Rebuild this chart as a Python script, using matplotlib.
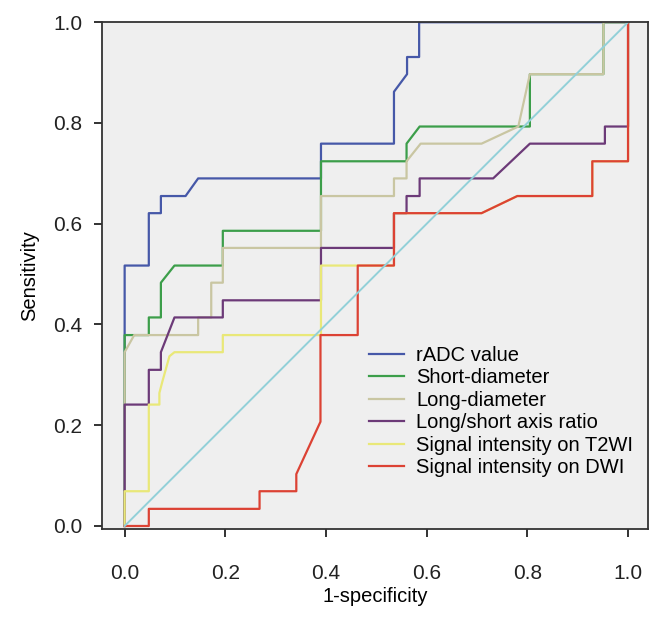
import matplotlib
matplotlib.use("Agg")
import matplotlib.pyplot as plt

plt.rcParams['font.family'] = ['Liberation Sans', 'DejaVu Sans']

# ROC curves (1-specificity, sensitivity)
radc_x = [0, 0, 0.048, 0.048, 0.072, 0.072, 0.121, 0.146, 0.390, 0.390, 0.535, 0.535, 0.561, 0.561, 0.585, 0.585, 1.0]
radc_y = [0, 0.517, 0.517, 0.621, 0.621, 0.655, 0.655, 0.690, 0.690, 0.759, 0.759, 0.862, 0.897, 0.931, 0.931, 1.0, 1.0]

short_x = [0, 0, 0.048, 0.048, 0.072, 0.072, 0.099, 0.195, 0.195, 0.390, 0.390, 0.560, 0.560, 0.586, 0.805, 0.805, 0.951, 0.951, 1.0]
short_y = [0, 0.379, 0.379, 0.414, 0.414, 0.483, 0.517, 0.517, 0.586, 0.586, 0.724, 0.724, 0.759, 0.793, 0.793, 0.897, 0.897, 1.0, 1.0]

long_x = [0, 0, 0.019, 0.146, 0.146, 0.172, 0.172, 0.195, 0.195, 0.390, 0.390, 0.535, 0.535, 0.560, 0.560, 0.588, 0.709, 0.782, 0.805, 0.951, 0.951, 1.0]
long_y = [0, 0.345, 0.379, 0.379, 0.414, 0.414, 0.483, 0.483, 0.552, 0.552, 0.655, 0.655, 0.690, 0.690, 0.724, 0.759, 0.759, 0.793, 0.897, 0.897, 1.0, 1.0]

ratio_x = [0, 0, 0.048, 0.048, 0.072, 0.072, 0.099, 0.195, 0.195, 0.390, 0.390, 0.535, 0.535, 0.560, 0.560, 0.586, 0.586, 0.732, 0.805, 0.954, 0.954, 1.0, 1.0]
ratio_y = [0, 0.241, 0.241, 0.310, 0.310, 0.345, 0.414, 0.414, 0.448, 0.448, 0.552, 0.552, 0.621, 0.621, 0.655, 0.655, 0.690, 0.690, 0.759, 0.759, 0.793, 0.793, 1.0]

t2_x = [0, 0, 0.048, 0.048, 0.069, 0.069, 0.075, 0.089, 0.099, 0.195, 0.195, 0.390, 0.390, 0.462, 0.535, 0.535, 0.709, 0.780, 0.929, 0.929, 1.0, 1.0]
t2_y = [0, 0.069, 0.069, 0.241, 0.241, 0.264, 0.287, 0.337, 0.345, 0.345, 0.379, 0.379, 0.517, 0.517, 0.517, 0.621, 0.621, 0.655, 0.655, 0.724, 0.724, 1.0]

dwi_x = [0, 0.048, 0.048, 0.268, 0.268, 0.341, 0.341, 0.389, 0.389, 0.463, 0.463, 0.535, 0.535, 0.709, 0.780, 0.929, 0.929, 1.0, 1.0]
dwi_y = [0, 0, 0.034, 0.034, 0.069, 0.069, 0.103, 0.207, 0.379, 0.379, 0.517, 0.517, 0.621, 0.621, 0.655, 0.655, 0.724, 0.724, 1.0]

ref_x = [0, 1]
ref_y = [0, 1]

curves = [
    (radc_x, radc_y, '#4658a8', 'rADC value'),
    (short_x, short_y, '#3c9e4a', 'Short-diameter'),
    (long_x, long_y, '#c9c6a2', 'Long-diameter'),
    (ratio_x, ratio_y, '#6c3a78', 'Long/short axis ratio'),
    (t2_x, t2_y, '#e9e878', 'Signal intensity on T2WI'),
    (dwi_x, dwi_y, '#dc4234', 'Signal intensity on DWI'),
]

fig = plt.figure(figsize=(6.71, 6.18), dpi=100)
ax = fig.add_axes([0.152, 0.144, 0.814, 0.820])
ax.set_facecolor('#efefef')

for xs, ys, col, lab in curves:
    ax.plot(xs, ys, color=col, lw=1.6, label=lab)
ax.plot(ref_x, ref_y, color='#92d0d8', lw=1.4)

ax.set_xlim(-0.045, 1.04)
ax.set_ylim(-0.006, 1.0)
ax.set_xticks([0, 0.2, 0.4, 0.6, 0.8, 1.0])
ax.set_yticks([0, 0.2, 0.4, 0.6, 0.8, 1.0])
ax.set_xticklabels(['0.0', '0.2', '0.4', '0.6', '0.8', '1.0'])
ax.set_yticklabels(['0.0', '0.2', '0.4', '0.6', '0.8', '1.0'])
ax.tick_params(axis='both', direction='out', length=6, width=1.3, labelsize=15, colors='#222222')
ax.tick_params(axis='x', pad=19)
ax.tick_params(axis='y', pad=8)
for sp in ax.spines.values():
    sp.set_color('#333333')
    sp.set_linewidth(1.3)

ax.set_xlabel('1-specificity', fontsize=14.5, labelpad=3)
ax.set_ylabel('Sensitivity', fontsize=14.5, labelpad=10)

ax.legend(loc='upper left', bbox_to_anchor=(0.489, 0.361), frameon=False, fontsize=14.5,
          handlelength=1.75, handletextpad=0.6, labelspacing=0.17, borderpad=0, borderaxespad=0)

plt.savefig('out.png')
